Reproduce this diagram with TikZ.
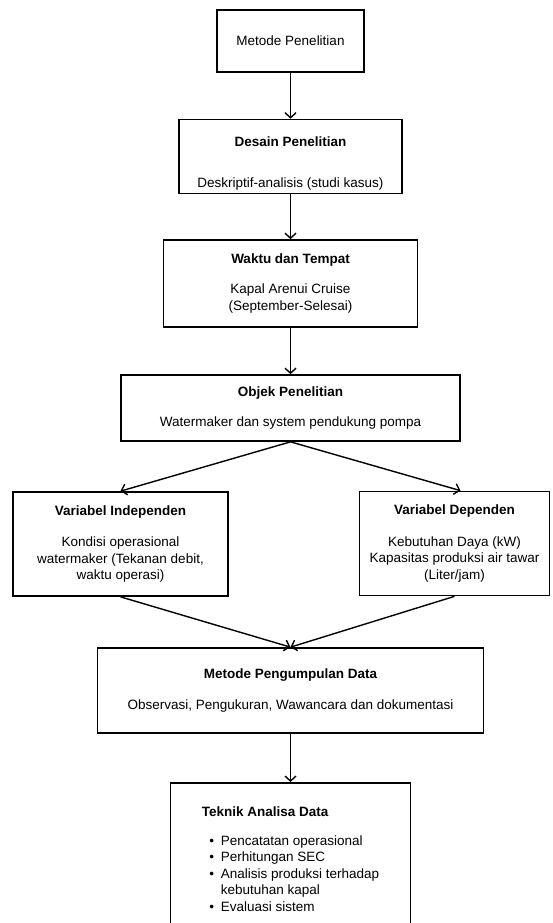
\documentclass[tikz,border=0pt]{standalone}
\usepackage{fontspec}
\setmainfont{Liberation Sans}
\usepackage{tikz}
\usetikzlibrary{arrows.meta, positioning}
\tikzset{
    box/.style={
        rectangle,
        draw=black,
        line width=1.7pt,
        align=center,
        fill=white
    },
    arrow/.style={
        draw=black,
        line width=1.4pt,
        -{Straight Barb[length=5pt,width=11pt]}
    }
}
\newcommand{\bul}[1]{\hspace*{7.5pt}\makebox[11.5pt][l]{\textbullet}#1}

\begin{document}
\begin{tikzpicture}[x=1pt, y=-1pt, font=\fontsize{13.5}{16.5}\selectfont]

\useasboundingbox (0,0) rectangle (553,923);

\node[box, minimum width=147pt, minimum height=62pt] (metode) at (290.5,41) {Metode Penelitian};
\node[box, minimum width=223pt, minimum height=73pt] (desain) at (290.5,156.5)
    {\rule{0pt}{24pt}\textbf{Desain Penelitian}\\[24pt]Deskriptif-analisis (studi kasus)};
\node[box, minimum width=254pt, minimum height=87pt] (waktu) at (290.5,283.5)
    {\textbf{Waktu dan Tempat}\\[14pt]Kapal Arenui Cruise\\(September-Selesai)};
\node[box, minimum width=339pt, minimum height=66pt] (objek) at (290.5,408)
    {\textbf{Objek Penelitian}\\[13pt]Watermaker dan system pendukung pompa};

\node[box, minimum width=215pt, minimum height=104pt] (indep) at (120.5,544)
    {\textbf{Variabel Independen}\\[15pt]Kondisi operasional\\watermaker (Tekanan debit,\\waktu operasi)};
\node[box, minimum width=190pt, minimum height=104pt] (dep) at (454.5,543.5)
    {\textbf{Variabel Dependen}\\[15pt]Kebutuhan Daya (kW)\\Kapasitas produksi air tawar\\(Liter/jam)};

\node[box, minimum width=386pt, minimum height=85pt] (kumpul) at (290.5,690.5)
    {\textbf{Metode Pengumpulan Data}\\[14pt]Observasi, Pengukuran, Wawancara dan dokumentasi};
\node[box, align=left, anchor=north, minimum width=240pt, minimum height=153pt] (teknik) at (290.5,782)
    {\textbf{Teknik Analisa Data}\\[12pt]
     \bul{Pencatatan operasional}\\
     \bul{Perhitungan SEC}\\
     \bul{Analisis produksi terhadap}\\
     \hspace*{19pt}kebutuhan kapal\\
     \bul{Evaluasi sistem}};

\draw[arrow] (metode) -- (desain);
\draw[arrow] (desain) -- (waktu);
\draw[arrow] (waktu) -- (objek);
\draw[arrow] (objek.south) -- (indep.north);
\draw[arrow] (objek.south) -- ([xshift=6pt]dep.north);
\draw[arrow] (indep.south) -- (kumpul.north);
\draw[arrow] (dep.south) -- (kumpul.north);
\draw[arrow] (kumpul) -- (teknik);

\end{tikzpicture}
\end{document}
